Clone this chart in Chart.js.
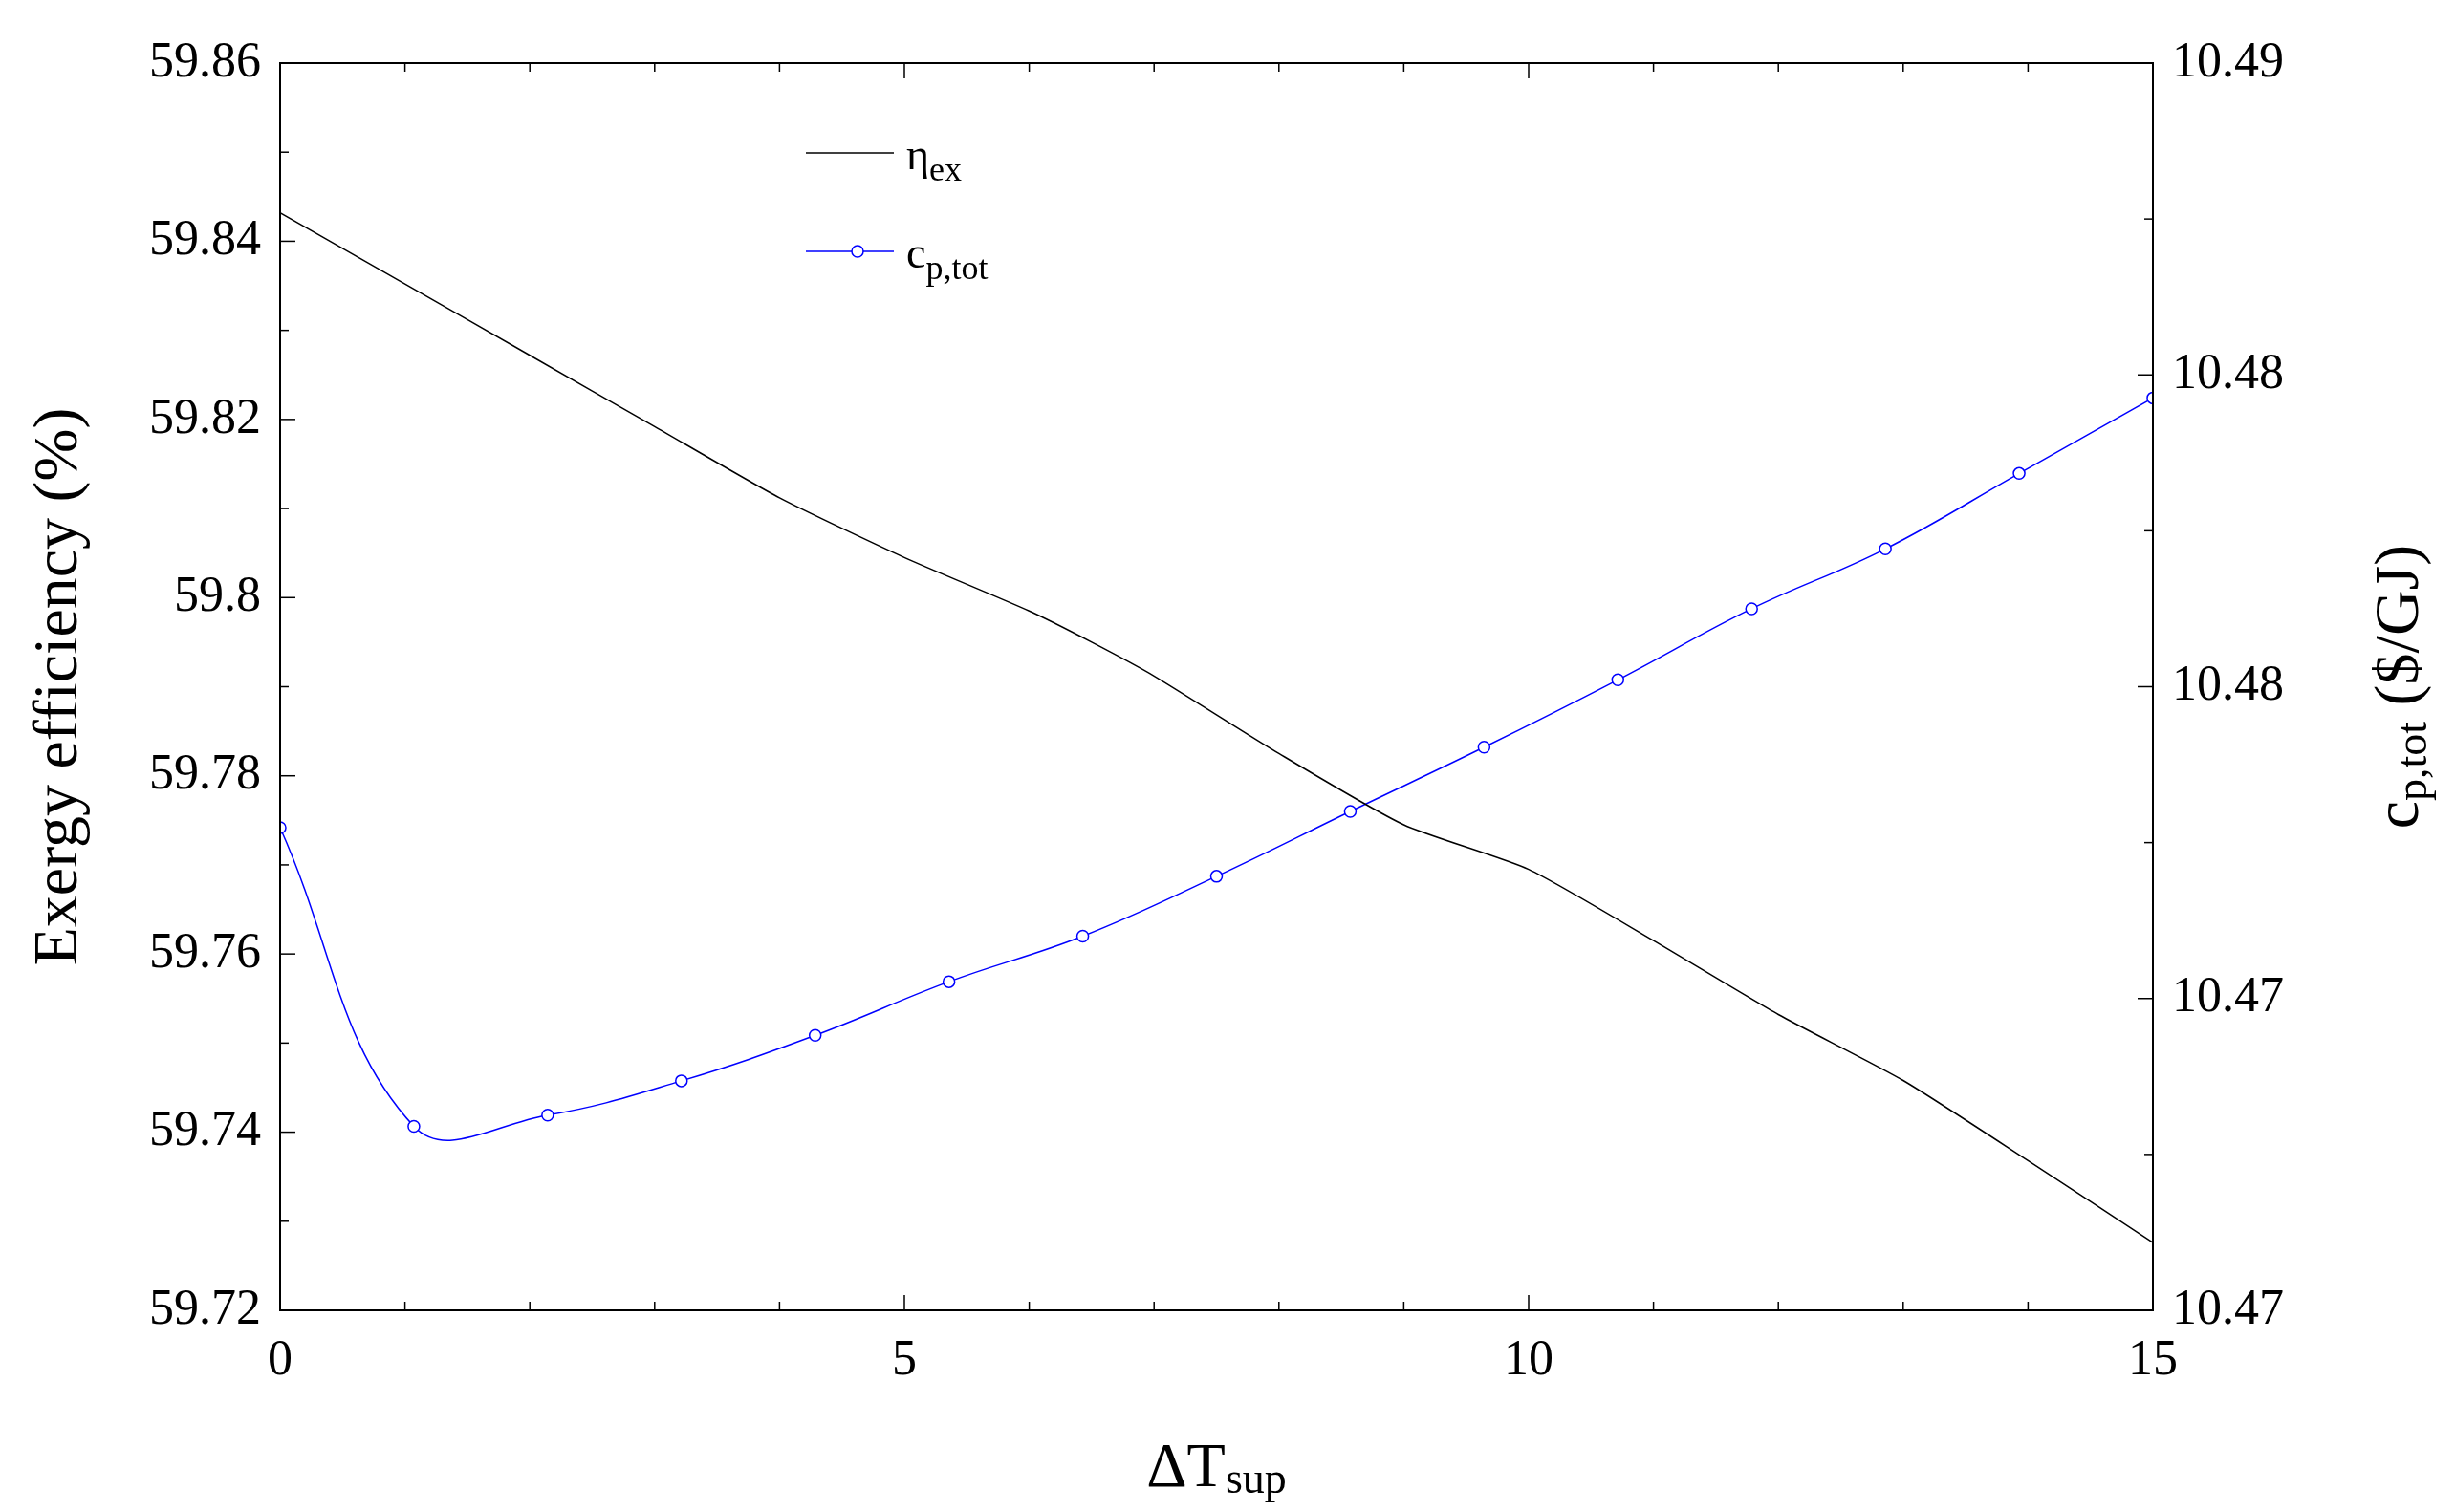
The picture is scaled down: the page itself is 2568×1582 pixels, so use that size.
<!DOCTYPE html>
<html><head><meta charset="utf-8">
<script src="https://cdn.jsdelivr.net/npm/chart.js@4"></script>
<style>html,body{margin:0;background:#fff}#w{width:2568px;height:1582px}</style>
</head><body><div id="w"><canvas id="c"></canvas></div>
<script>
const etaX=[0,1,2,3,4,5,6,6.5,7,8,9,10,11,12,13,14,15];
const etaY=[59.8432,59.8352,59.8272,59.8192,59.8112,59.8045,59.7985,59.795,59.7912,59.7825,59.7745,59.7695,59.7615,59.7532,59.7458,59.7368,59.7276];
const cpX=[0,1.0714,2.1429,3.2143,4.2857,5.3571,6.4286,7.5,8.5714,9.6429,10.7143,11.7857,12.8571,13.9286,15];
const cpY=[10.47774,10.47295,10.47313,10.47368,10.47441,10.47527,10.47600,10.47696,10.47800,10.47903,10.48011,10.48125,10.48221,10.48342,10.48463];
const leftTicks=[59.72,59.74,59.76,59.78,59.80,59.82,59.84,59.86];
const leftLabels=['59.72','59.74','59.76','59.78','59.8','59.82','59.84','59.86'];
const rightTicks=[10.47,10.475,10.48,10.485,10.49];
const rightLabels=['10.47','10.47','10.48','10.48','10.49'];
const xTicks=[0,5,10,15];
const F='"Liberation Serif","Times New Roman",serif';

const deco={id:'deco',afterDraw(ch){
 const c=ch.ctx,a=ch.chartArea,x=ch.scales.x,y=ch.scales.y,y2=ch.scales.y2;
 c.save();c.strokeStyle='#000';c.lineWidth=2;
 c.strokeRect(a.left,a.top,a.right-a.left,a.bottom-a.top);
 c.lineWidth=1.5;
 for(let v=0;v<=15;v++){const p=x.getPixelForValue(v),L=v%5==0?16:9;
  c.beginPath();c.moveTo(p,a.bottom);c.lineTo(p,a.bottom-L);c.moveTo(p,a.top);c.lineTo(p,a.top+L);c.stroke();}
 for(let i=0;i<=14;i++){const v=59.72+i*0.01,p=y.getPixelForValue(v),L=i%2==0?16:9;
  c.beginPath();c.moveTo(a.left,p);c.lineTo(a.left+L,p);c.stroke();}
 for(let i=0;i<=8;i++){const v=10.47+i*0.0025,p=y2.getPixelForValue(v),L=i%2==0?16:9;
  c.beginPath();c.moveTo(a.right,p);c.lineTo(a.right-L,p);c.stroke();}
 c.fillStyle='#000';
 // axis titles
 c.font='66px '+F;c.textBaseline='middle';
 c.save();c.translate(63,(a.top+a.bottom)/2);c.rotate(-Math.PI/2);c.textAlign='center';c.fillText('Exergy efficiency (%)',0,0);c.restore();
 // right title with subscript
 c.save();c.translate(2512,(a.top+a.bottom)/2);c.rotate(-Math.PI/2);
 const p1='c',p2='p,tot',p3=' ($/GJ)';
 c.font='66px '+F;const w1=c.measureText(p1).width,w3=c.measureText(p3).width;
 c.font='46px '+F;const w2=c.measureText(p2).width;
 let sx=-(w1+w2+w3)/2;c.textAlign='left';
 c.font='66px '+F;c.fillText(p1,sx,0);sx+=w1;
 c.font='46px '+F;c.fillText(p2,sx,14);sx+=w2;
 c.font='66px '+F;c.fillText(p3,sx,0);c.restore();
 // x title
 c.font='66px '+F;const wa=c.measureText('ΔT').width;c.font='46px '+F;const wb=c.measureText('sup').width;
 let bx=(a.left+a.right)/2-(wa+wb)/2;c.textAlign='left';
 c.font='66px '+F;c.fillText('ΔT',bx,1538);c.font='46px '+F;c.fillText('sup',bx+wa,1550);
 // legend
 c.strokeStyle='#000';c.lineWidth=1.5;c.beginPath();c.moveTo(843,160);c.lineTo(935,160);c.stroke();
 c.font='46px '+F;c.fillText('η',948,165);const we=c.measureText('η').width;c.font='36px '+F;c.fillText('ex',948+we,180);
 c.strokeStyle='#0000ff';c.beginPath();c.moveTo(843,263);c.lineTo(935,263);c.stroke();
 c.fillStyle='#fff';c.beginPath();c.arc(897,263,6,0,7);c.fill();c.stroke();
 c.fillStyle='#000';c.font='46px '+F;c.fillText('c',948,268);const wc=c.measureText('c').width;c.font='36px '+F;c.fillText('p,tot',948+wc,283);
 c.restore();}};

new Chart(document.getElementById('c'),{type:'scatter',
 data:{datasets:[
  {data:etaX.map((v,i)=>({x:v,y:etaY[i]})),yAxisID:'y',showLine:true,borderColor:'#000',borderWidth:1.5,pointRadius:0,tension:0.2},
  {data:cpX.map((v,i)=>({x:v,y:cpY[i]})),yAxisID:'y2',showLine:true,borderColor:'#0000ff',borderWidth:1.5,pointRadius:6,pointBackgroundColor:'#fff',pointBorderColor:'#0000ff',pointBorderWidth:1.5,tension:0.4}]},
 options:{responsive:true,maintainAspectRatio:false,animation:false,devicePixelRatio:1,
  layout:{padding:{top:66,left:0,right:0,bottom:0}},
  plugins:{legend:{display:false},tooltip:{enabled:false}},
  scales:{
   x:{type:'linear',min:0,max:15,afterBuildTicks:s=>{s.ticks=xTicks.map(v=>({value:v}))},afterFit:s=>{s.height=211},
      grid:{display:false},border:{display:false},ticks:{color:'#000',font:{family:F,size:52},padding:14,maxRotation:0}},
   y:{position:'left',min:59.72,max:59.86,afterBuildTicks:s=>{s.ticks=leftTicks.map(v=>({value:v}))},afterFit:s=>{s.width=293},
      grid:{display:false},border:{display:false},ticks:{color:'#000',font:{family:F,size:52},padding:12,callback:(v,i)=>leftLabels[i]}},
   y2:{position:'right',min:10.47,max:10.49,afterBuildTicks:s=>{s.ticks=rightTicks.map(v=>({value:v}))},afterFit:s=>{s.width=316},
      grid:{display:false},border:{display:false},ticks:{color:'#000',font:{family:F,size:52},padding:12,callback:(v,i)=>rightLabels[i]}}
  }},
 plugins:[deco]});
</script></body></html>
